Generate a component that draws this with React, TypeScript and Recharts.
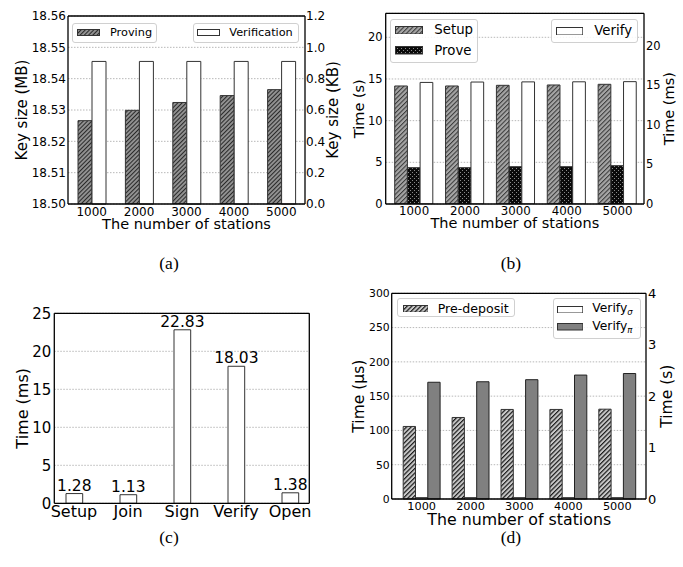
import React from "react";
import { BarChart, Bar, XAxis, YAxis, CartesianGrid, LabelList } from "recharts";

// (a) key sizes
const stations = ["1000", "2000", "3000", "4000", "5000"];
const provingKeyMB = [18.5266, 18.5299, 18.5324, 18.5346, 18.5365];
const verificationKeyKB = [0.91, 0.91, 0.91, 0.91, 0.91];

// (b) setup / prove / verify times
const setupS = [14.16, 14.16, 14.24, 14.28, 14.36];
const proveS = [4.36, 4.36, 4.48, 4.48, 4.6];
const verifyMs = [15.35, 15.4, 15.42, 15.43, 15.45];

// (c) group signature operations
const operations = ["Setup", "Join", "Sign", "Verify", "Open"];
const operationMs = [1.28, 1.13, 22.83, 18.03, 1.38];

// (d) pre-deposit / verify
const preDepositUs = [105.8, 118.9, 130.6, 130.6, 131];
const verifySigmaUs = [2, 2, 2, 2, 2];
const verifyPiS = [2.27, 2.28, 2.32, 2.41, 2.44];

const ticksMB = [18.5, 18.51, 18.52, 18.53, 18.54, 18.55, 18.56];
const ticksKB = [0, 0.2, 0.4, 0.6, 0.8, 1.0, 1.2];
const ticks5 = [0, 5, 10, 15, 20];
const ticks25 = [0, 5, 10, 15, 20, 25];
const gridC = [5, 10, 15, 20];
const ticksUs = [0, 50, 100, 150, 200, 250, 300];
const ticksS = [0, 1, 2, 3, 4];

const dataA = stations.map((s, i) => ({ station: s, proving: provingKeyMB[i], verification: verificationKeyKB[i] }));
const dataB = stations.map((s, i) => ({ station: s, setup: setupS[i], prove: proveS[i], verify: verifyMs[i] }));
const dataC = operations.map((op, i) => ({ op, time: operationMs[i] }));
const dataD = stations.map((s, i) => ({ station: s, pre: preDepositUs[i], vsig: verifySigmaUs[i], vpi: verifyPiS[i] }));

const FONT = "'DejaVu Sans', sans-serif";
const spine = { stroke: "#000", strokeWidth: 1.3 };
const edge = "#333";
const gridColor = "#b8b8b8";
const blank = () => "";

const tickStyle = (size: number) => ({ fill: "#000", fontSize: size, fontFamily: FONT });

const vTitle = (x: number, y: number, text: React.ReactNode, size: number) => () => (
  <text x={x} y={y} transform={`rotate(-90 ${x} ${y})`} textAnchor="middle" dominantBaseline="central"
    fontSize={size} fontFamily={FONT} fill="#000">{text}</text>
);
const hTitle = (x: number, y: number, text: string, size: number) => () => (
  <text x={x} y={y} textAnchor="middle" dominantBaseline="central" fontSize={size} fontFamily={FONT} fill="#000">{text}</text>
);

const Grid = (props: any) => <CartesianGrid vertical={false} stroke={gridColor} strokeDasharray="1.5 1.5" {...props} />;

const Patterns = () => (
  <svg width={0} height={0} style={{ position: "absolute" }}>
    <defs>
      <pattern id="hatchProving" patternUnits="userSpaceOnUse" width={3} height={3} patternTransform="rotate(45)">
        <rect width={3} height={3} fill="#939393" />
        <line x1={0.5} y1={0} x2={0.5} y2={3} stroke="#2a2a2a" strokeWidth={1.1} />
      </pattern>
      <pattern id="hatchSetup" patternUnits="userSpaceOnUse" width={3.2} height={3.2} patternTransform="rotate(45)">
        <rect width={3.2} height={3.2} fill="#a6a6a6" />
        <line x1={0.5} y1={0} x2={0.5} y2={3.2} stroke="#3a3a3a" strokeWidth={1.1} />
      </pattern>
      <pattern id="dotsProve" patternUnits="userSpaceOnUse" width={4} height={4}>
        <rect width={4} height={4} fill="#0a0a0a" />
        <rect x={0} y={0} width={1} height={1} fill="#8a8a8a" />
        <rect x={2} y={2} width={1} height={1} fill="#8a8a8a" />
      </pattern>
      <pattern id="hatchPre" patternUnits="userSpaceOnUse" width={3.2} height={3.2} patternTransform="rotate(45)">
        <rect width={3.2} height={3.2} fill="#c8c8c8" />
        <line x1={0.6} y1={0} x2={0.6} y2={3.2} stroke="#1a1a1a" strokeWidth={1.2} />
      </pattern>
    </defs>
  </svg>
);

const Box = ({ left, top, width, height }: any) => (
  <div style={{ position: "absolute", left, top, width, height, boxSizing: "border-box", background: "rgba(255,255,255,0.85)", border: "1px solid #d0d0d0", borderRadius: 3 }} />
);
const Item = ({ x, y, w, h, fill, textX, size, children }: any) => (
  <>
    <svg style={{ position: "absolute", left: x, top: y - h / 2 }} width={w} height={h}>
      <rect x={0.5} y={0.5} width={w - 1} height={h - 1} fill={fill} stroke={edge} strokeWidth={1} />
    </svg>
    <div style={{ position: "absolute", left: textX, top: y, transform: "translateY(-50%)", fontSize: size, fontFamily: FONT, lineHeight: 1, whiteSpace: "nowrap" }}>
      {children}
    </div>
  </>
);

const Caption = ({ x, y, text }: any) => (
  <div style={{ position: "absolute", left: x, top: y, transform: "translate(-50%,-50%)", fontFamily: "'Liberation Serif', serif", fontSize: 17.5 }}>{text}</div>
);

// top spine: a 1px tall top axis with empty labels
const TopSpine = (key: string) => (
  <XAxis xAxisId="top" orientation="top" dataKey={key} height={1} tickFormatter={blank} tickLine={false} axisLine={spine} interval={0} />
);

const App = () => {
  return (
    <div style={{ position: "absolute", left: 0, top: 0, width: 683, height: 567, background: "#fff", overflow: "hidden" }}>
      <Patterns />

      {/* (a) */}
      <div style={{ position: "absolute", left: 0, top: 0 }}>
        <BarChart width={346} height={240} data={dataA} margin={{ top: 15, right: 11, bottom: 6, left: 8 }} barGap={0}>
          <Grid yAxisId="l" />
          <XAxis dataKey="station" height={30} interval={0} tickLine={false} tickSize={0} tickMargin={3} axisLine={spine}
            tick={tickStyle(12)} label={hTitle(186.5, 223.5, "The number of stations", 14.5)} />
          {TopSpine("station")}
          <YAxis yAxisId="l" width={60} domain={[18.5, 18.56]} ticks={ticksMB} allowDataOverflow tickFormatter={(v: number) => v.toFixed(2)}
            tickLine={false} tickSize={0} tickMargin={2} axisLine={spine} tick={tickStyle(12)} label={vTitle(22, 110, "Key size (MB)", 15)} />
          <YAxis yAxisId="r" orientation="right" width={30} domain={[0, 1.2]} ticks={ticksKB} tickFormatter={(v: number) => v.toFixed(1)}
            tickLine={false} tickSize={0} tickMargin={1} axisLine={spine} tick={tickStyle(12)} label={vTitle(333, 110, "Key size (KB)", 15)} />
          <Bar yAxisId="l" dataKey="proving" barSize={14} fill="url(#hatchProving)" stroke={edge} isAnimationActive={false} />
          <Bar yAxisId="r" dataKey="verification" barSize={14} fill="#fff" stroke={edge} isAnimationActive={false} />
        </BarChart>
      </div>

      {/* (b) */}
      <div style={{ position: "absolute", left: 340, top: 0 }}>
        <BarChart width={343} height={240} data={dataB} margin={{ top: 12.3, right: 9, bottom: 6, left: 5.7 }} barGap={0}>
          <Grid yAxisId="l" />
          <XAxis dataKey="station" height={30} interval={0} padding={{ left: 3, right: 1 }} tickLine={false} tickSize={0} tickMargin={3}
            axisLine={spine} tick={tickStyle(11.8)} label={hTitle(174.8, 223, "The number of stations", 14.5)} />
          {TopSpine("station")}
          <YAxis yAxisId="l" width={40} domain={[0, 22.88]} ticks={ticks5} allowDataOverflow tickLine={false} tickSize={0} tickMargin={3}
            axisLine={spine} tick={tickStyle(11.5)} label={vTitle(19, 108.7, "Time (s)", 14.5)} />
          <YAxis yAxisId="r" orientation="right" width={30} domain={[0, 24.08]} ticks={ticks5} allowDataOverflow tickLine={false} tickSize={0}
            tickMargin={2} axisLine={spine} tick={tickStyle(11.5)} label={vTitle(329, 108.7, "Time (ms)", 14.5)} />
          <Bar yAxisId="l" dataKey="setup" barSize={12.7} fill="url(#hatchSetup)" stroke={edge} isAnimationActive={false} />
          <Bar yAxisId="l" dataKey="prove" barSize={12.7} fill="url(#dotsProve)" stroke={edge} isAnimationActive={false} />
          <Bar yAxisId="r" dataKey="verify" barSize={12.7} fill="#fff" stroke={edge} isAnimationActive={false} />
        </BarChart>
      </div>

      {/* (c) */}
      <div style={{ position: "absolute", left: 0, top: 280 }}>
        <BarChart width={340} height={260} data={dataC} margin={{ top: 32.3, right: 29.7, bottom: 6.7, left: 9.3 }}>
          <Grid />
          <XAxis dataKey="op" interval={0} padding={{ left: -7.3, right: -7.7 }} height={30} tickLine={false} tickSize={0} tickMargin={2}
            axisLine={spine} tick={tickStyle(16)} />
          {TopSpine("op")}
          <YAxis width={45} domain={[0, 25]} ticks={ticks25} tickLine={false} tickSize={0} tickMargin={3} axisLine={spine}
            tick={tickStyle(15)} label={vTitle(22.7, 128.3, "Time (ms)", 16)} />
          {/* right spine; its inward tick lines give the dotted grid */}
          <YAxis yAxisId="r" orientation="right" width={1} domain={[0, 25]} ticks={gridC} interval={0} tickFormatter={blank}
            tickSize={-255} tickMargin={0} tickLine={{ stroke: gridColor, strokeDasharray: "1.5 1.5", strokeWidth: 1 }}
            axisLine={spine} zIndex={-10} />
          <Bar dataKey="time" barSize={16.7} fill="#fff" stroke={edge} isAnimationActive={false}>
            <LabelList dataKey="time" position="top" offset={3} fill="#000" fontSize={15.5} fontFamily={FONT} />
          </Bar>
        </BarChart>
      </div>

      {/* (d) */}
      <div style={{ position: "absolute", left: 340, top: 280 }}>
        <BarChart width={343} height={260} data={dataD} margin={{ top: 12.3, right: 7, bottom: 11, left: 11.7 }} barGap={0}>
          <Grid yAxisId="l" />
          <XAxis dataKey="station" height={30} interval={0} padding={{ left: 5.5, right: 4.3 }} tickLine={false} tickSize={0} tickMargin={2.7}
            axisLine={spine} tick={tickStyle(11.3)} label={hTitle(179.2, 239.5, "The number of stations", 15.8)} />
          {TopSpine("station")}
          <YAxis yAxisId="l" width={40} domain={[0, 300]} ticks={ticksUs} tickLine={false} tickSize={0} tickMargin={2} axisLine={spine}
            tick={tickStyle(10.8)} label={vTitle(18.8, 116.2, "Time (μs)", 15.5)} />
          <YAxis yAxisId="r" orientation="right" width={30} domain={[0, 4]} ticks={ticksS} tickLine={false} tickSize={0} tickMargin={2}
            axisLine={spine} tick={tickStyle(13)} label={vTitle(327.5, 116.2, "Time (s)", 15.5)} />
          <Bar yAxisId="l" dataKey="pre" barSize={12.3} fill="url(#hatchPre)" stroke={edge} isAnimationActive={false} />
          <Bar yAxisId="l" dataKey="vsig" barSize={12.3} fill="#fff" stroke={edge} isAnimationActive={false} />
          <Bar yAxisId="r" dataKey="vpi" barSize={12.3} fill="#808080" stroke="#222" isAnimationActive={false} />
        </BarChart>
      </div>

      {/* legends */}
      <Box left={72.3} top={23.3} width={84.4} height={20} />
      <Item x={77.3} y={32.5} w={23} h={7} fill="url(#hatchProving)" textX={110} size={11.3}>Proving</Item>
      <Box left={192.7} top={22.7} width={106.3} height={20} />
      <Item x={197.3} y={32.5} w={23} h={7} fill="#fff" textX={229.3} size={11.3}>Verification</Item>

      <Box left={390} top={18.7} width={88.3} height={44} />
      <Item x={395} y={29.8} w={28} h={8.5} fill="url(#hatchSetup)" textX={434.3} size={13.3}>Setup</Item>
      <Item x={395} y={50.7} w={28} h={8.5} fill="url(#dotsProve)" textX={434.3} size={13.3}>Prove</Item>
      <Box left={550.7} top={19.3} width={87} height={23.4} />
      <Item x={556} y={31} w={27.3} h={8.5} fill="#fff" textX={594.3} size={13.3}>Verify</Item>

      <Box left={397.3} top={298} width={117.7} height={19} />
      <Item x={402.7} y={308.5} w={25.6} h={7.7} fill="url(#hatchPre)" textX={437.7} size={12.6}>Pre-deposit</Item>
      <Box left={552.7} top={298} width={88} height={41.3} />
      <Item x={557} y={309.3} w={26.3} h={7.5} fill="#fff" textX={592.3} size={12.3}>Verify<sub style={{ fontSize: 8.5, fontStyle: "italic" }}>σ</sub></Item>
      <Item x={557} y={327} w={26.3} h={7.5} fill="#808080" textX={592.3} size={12.3}>Verify<sub style={{ fontSize: 8.5, fontStyle: "italic" }}>π</sub></Item>

      <Caption x={169} y={263} text="(a)" />
      <Caption x={511} y={263} text="(b)" />
      <Caption x={169} y={537} text="(c)" />
      <Caption x={511} y={537} text="(d)" />
    </div>
  );
};

export default App;
